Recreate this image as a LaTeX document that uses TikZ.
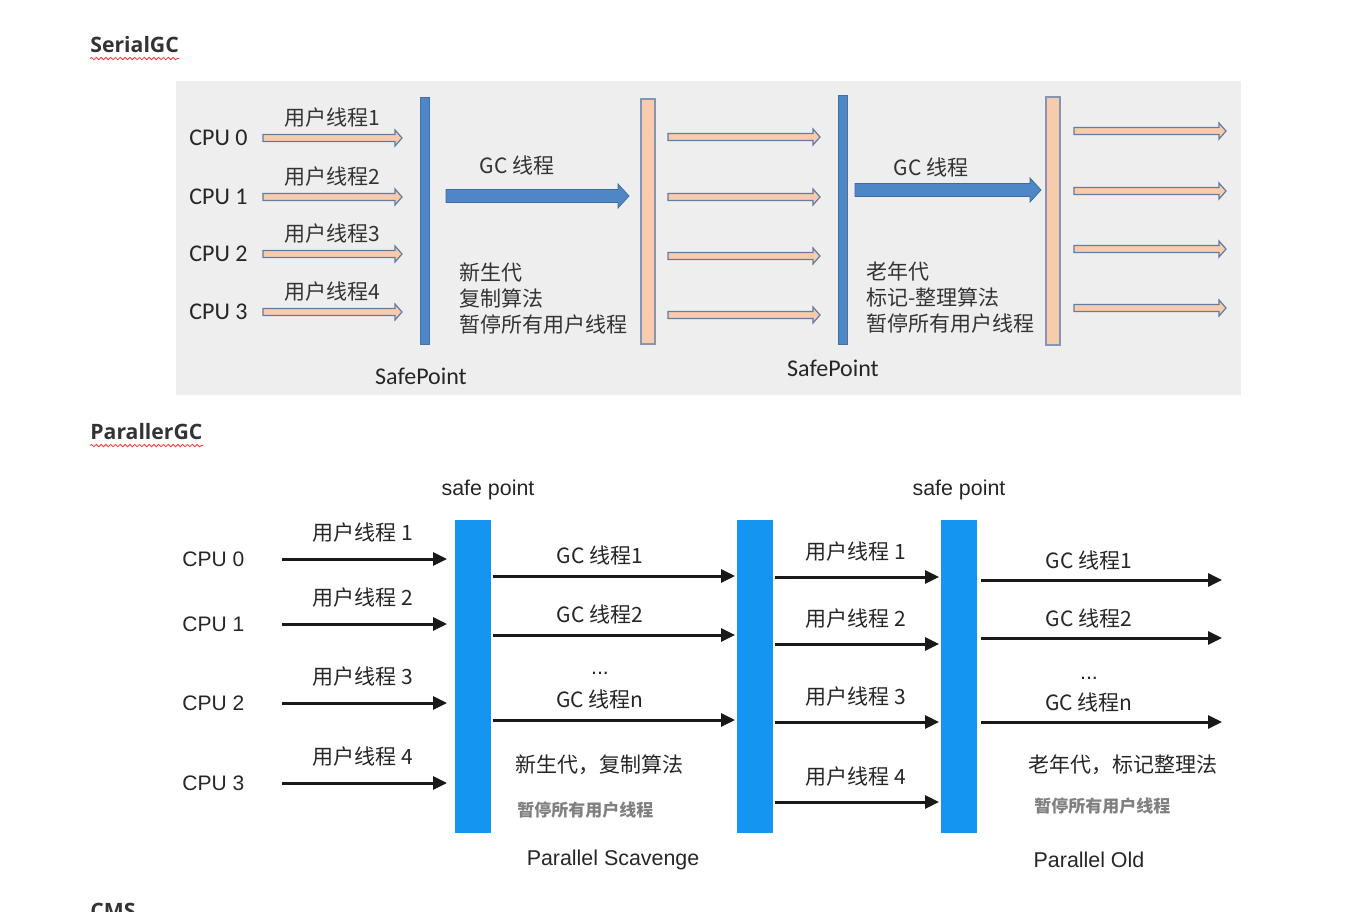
\documentclass[tikz,border=0pt]{standalone}
\usepackage{fontspec}
\setmainfont{Carlito}
\newfontfamily\cjk{Noto Sans CJK SC}
\newfontfamily\helv{Liberation Sans}
\newfontfamily\hdfont{Open Sans}
\usetikzlibrary{arrows.meta,calc,decorations.pathmorphing}
\definecolor{topgray}{RGB}{238,238,238}
\definecolor{barblue}{RGB}{79,134,198}
\definecolor{peach}{RGB}{248,203,173}
\definecolor{edgeblue}{RGB}{100,124,160}
\definecolor{psblue}{RGB}{20,150,240}
\begin{document}
\begin{tikzpicture}[x=0.5pt,y=-0.5pt,>={Triangle[length=7pt,width=6.5pt]},
    head/.style={font=\hdfont\bfseries\fontsize{10.6}{13}\selectfont,text=black!80,anchor=west,inner sep=0},
    squig/.style={red!80,line width=0.4pt,decorate,decoration={snake,amplitude=0.6pt,segment length=2.4pt}},
    cpu/.style={font=\fontsize{12}{14}\selectfont,text=black!85,anchor=west,inner sep=0},
    lbl/.style={font=\cjk\fontsize{10.5}{13}\selectfont,text=black!80,inner sep=0},
    blk/.style n args={3}{to path={let \p1=(\tikztostart),\p2=(\tikztotarget) in (\x1,\y1+#1) -- (\x2-#3,\y1+#1) -- (\x2-#3,\y1+#2) -- (\x2,\y1) -- (\x2-#3,\y1-#2) -- (\x2-#3,\y1-#1) -- (\x1,\y1-#1) -- cycle}},
    sarrow/.style={blk={1.75pt}{4pt}{3.5pt},draw=edgeblue,fill=peach,line width=0.6pt},
    garrow/.style={blk={3.25pt}{6pt}{5.5pt},draw=barblue!80!black,fill=barblue,line width=0.4pt},
    sbar/.style={draw=barblue!85!black,fill=barblue,minimum width=4.5pt,inner sep=0,line width=0.3pt},
    pbar/.style={draw=edgeblue!80,fill=peach,minimum width=7pt,inner sep=0,line width=0.6pt},
    bbar/.style={fill=psblue,minimum width=18pt,minimum height=156.5pt,inner sep=0},
    cpu2/.style={font=\helv\fontsize{10.5}{13}\selectfont,text=black!85,anchor=west,inner sep=0},
    safe/.style={font=\helv\fontsize{10.7}{13}\selectfont,text=black!85,inner sep=0},
    lbl2/.style={font=\cjk\fontsize{10.5}{13}\selectfont,text=black!85,inner sep=0},
    note/.style={font=\cjk\bfseries\fontsize{8.5}{10}\selectfont,text=black!50,anchor=west,inner sep=0},
    parr/.style={->,line width=1.5pt,black!90}]
\fill[white] (0,0) rectangle (1361,911);
\useasboundingbox (0,0) rectangle (1361,911);
\node[head] (serial) at (90,45) {SerialGC};
\draw[squig] ([yshift=-2.5pt]serial.south west) -- ([yshift=-2.5pt]serial.south east);
\fill[topgray] (176,81) rectangle (1241,395);
\node[sbar,minimum height=123.5pt] (sp1) at (424.5,220.5) {};
\node[pbar,minimum height=122.5pt] (pe1) at (648,221.5) {};
\node[sbar,minimum height=124.5pt] (sp2) at (842.5,219.5) {};
\node[pbar,minimum height=124pt] (pe2) at (1053,221) {};
\foreach \k/\m/\ra/\rb/\rc in {0/1/138/137/131,1/2/197/197/191,2/3/254/256/249,3/4/312/315/308}{
    \node[cpu] (cpu\k) at (189,\ra) {CPU \k};
    \coordinate (us\k) at (263,\ra);
    \coordinate (ue\k) at (402,\ra);
    \draw[sarrow] (us\k) to (ue\k);
    \node[lbl] (ut\k) at (332,\ra-20) {用户线程\m};
    \coordinate (ms\k) at (668,\rb);
    \coordinate (me\k) at (820,\rb);
    \draw[sarrow] (ms\k) to (me\k);
    \coordinate (rs\k) at (1074,\rc);
    \coordinate (re\k) at (1226,\rc);
    \draw[sarrow] (rs\k) to (re\k);
}
\coordinate (gs1) at (446,196);
\coordinate (ge1) at (629,196);
\draw[garrow] (gs1) to (ge1);
\coordinate (gs2) at (855,190);
\coordinate (ge2) at (1041,190);
\draw[garrow] (gs2) to (ge2);
\node[lbl] (gc1) at (517,165) {GC 线程};
\node[lbl] (gc2) at (931,167) {GC 线程};
\node[lbl,anchor=west,align=left] (young) at (459,299) {新生代\\复制算法\\暂停所有用户线程};
\node[lbl,anchor=west,align=left] (old) at (866,298) {老年代\\标记-整理算法\\暂停所有用户线程};
\node[cpu,anchor=center] (safe1) at (421,376) {SafePoint};
\node[cpu,anchor=center] (safe2) at (833,368) {SafePoint};
\node[head] (parallel) at (90,432) {ParallerGC};
\draw[squig] ([yshift=-2.5pt]parallel.south west) -- ([yshift=-2.5pt]parallel.south east);
\node[safe] (sf1) at (488,490) {safe point};
\node[safe] (sf2) at (959,490) {safe point};
\node[bbar] (pb1) at (473,676.5) {};
\node[bbar] (pb2) at (755,676.5) {};
\node[bbar] (pb3) at (959,676.5) {};
\foreach \k/\m/\ra/\rb in {0/1/559/577,1/2/624/644,2/3/703/722,3/4/783/802}{
    \node[cpu2] (pc\k) at (182,\ra) {CPU \k};
    \coordinate (qs\k) at (282,\ra);
    \coordinate (qe\k) at (447,\ra);
    \draw[parr] (qs\k) -- (qe\k);
    \node[lbl2] (qt\k) at (363,\ra-26) {用户线程 \m};
    \coordinate (ws\k) at (775,\rb);
    \coordinate (we\k) at (939,\rb);
    \draw[parr] (ws\k) -- (we\k);
    \node[lbl2] (wt\k) at (856,\rb-25) {用户线程 \m};
}
\foreach \k/\n/\ra/\rb in {1/1/576/580,2/2/635/638,3/n/720/722}{
    \coordinate (hs\k) at (493,\ra);
    \coordinate (he\k) at (735,\ra);
    \draw[parr] (hs\k) -- (he\k);
    \node[lbl2] (ht\k) at (600,\ra-21) {GC 线程\n};
    \coordinate (os\k) at (981,\rb);
    \coordinate (oe\k) at (1222,\rb);
    \draw[parr] (os\k) -- (oe\k);
    \node[lbl2] (ot\k) at (1089,\rb-20) {GC 线程\n};
}
\node[safe] (dots1) at (600,673) {...};
\node[safe] (dots2) at (1089,678) {...};
\node[lbl2,anchor=west] (ng) at (515,765) {新生代，复制算法};
\node[note] (np1) at (517,810) {暂停所有用户线程};
\node[safe] (psn) at (613,860) {Parallel Scavenge};
\node[lbl2,anchor=west] (og) at (1028,765) {老年代，标记整理法};
\node[note] (np2) at (1034,806) {暂停所有用户线程};
\node[safe] (pon) at (1089,860) {Parallel Old};
\node[head,anchor=north west] (cms) at (90,903) {CMS};
\end{tikzpicture}
\end{document}
